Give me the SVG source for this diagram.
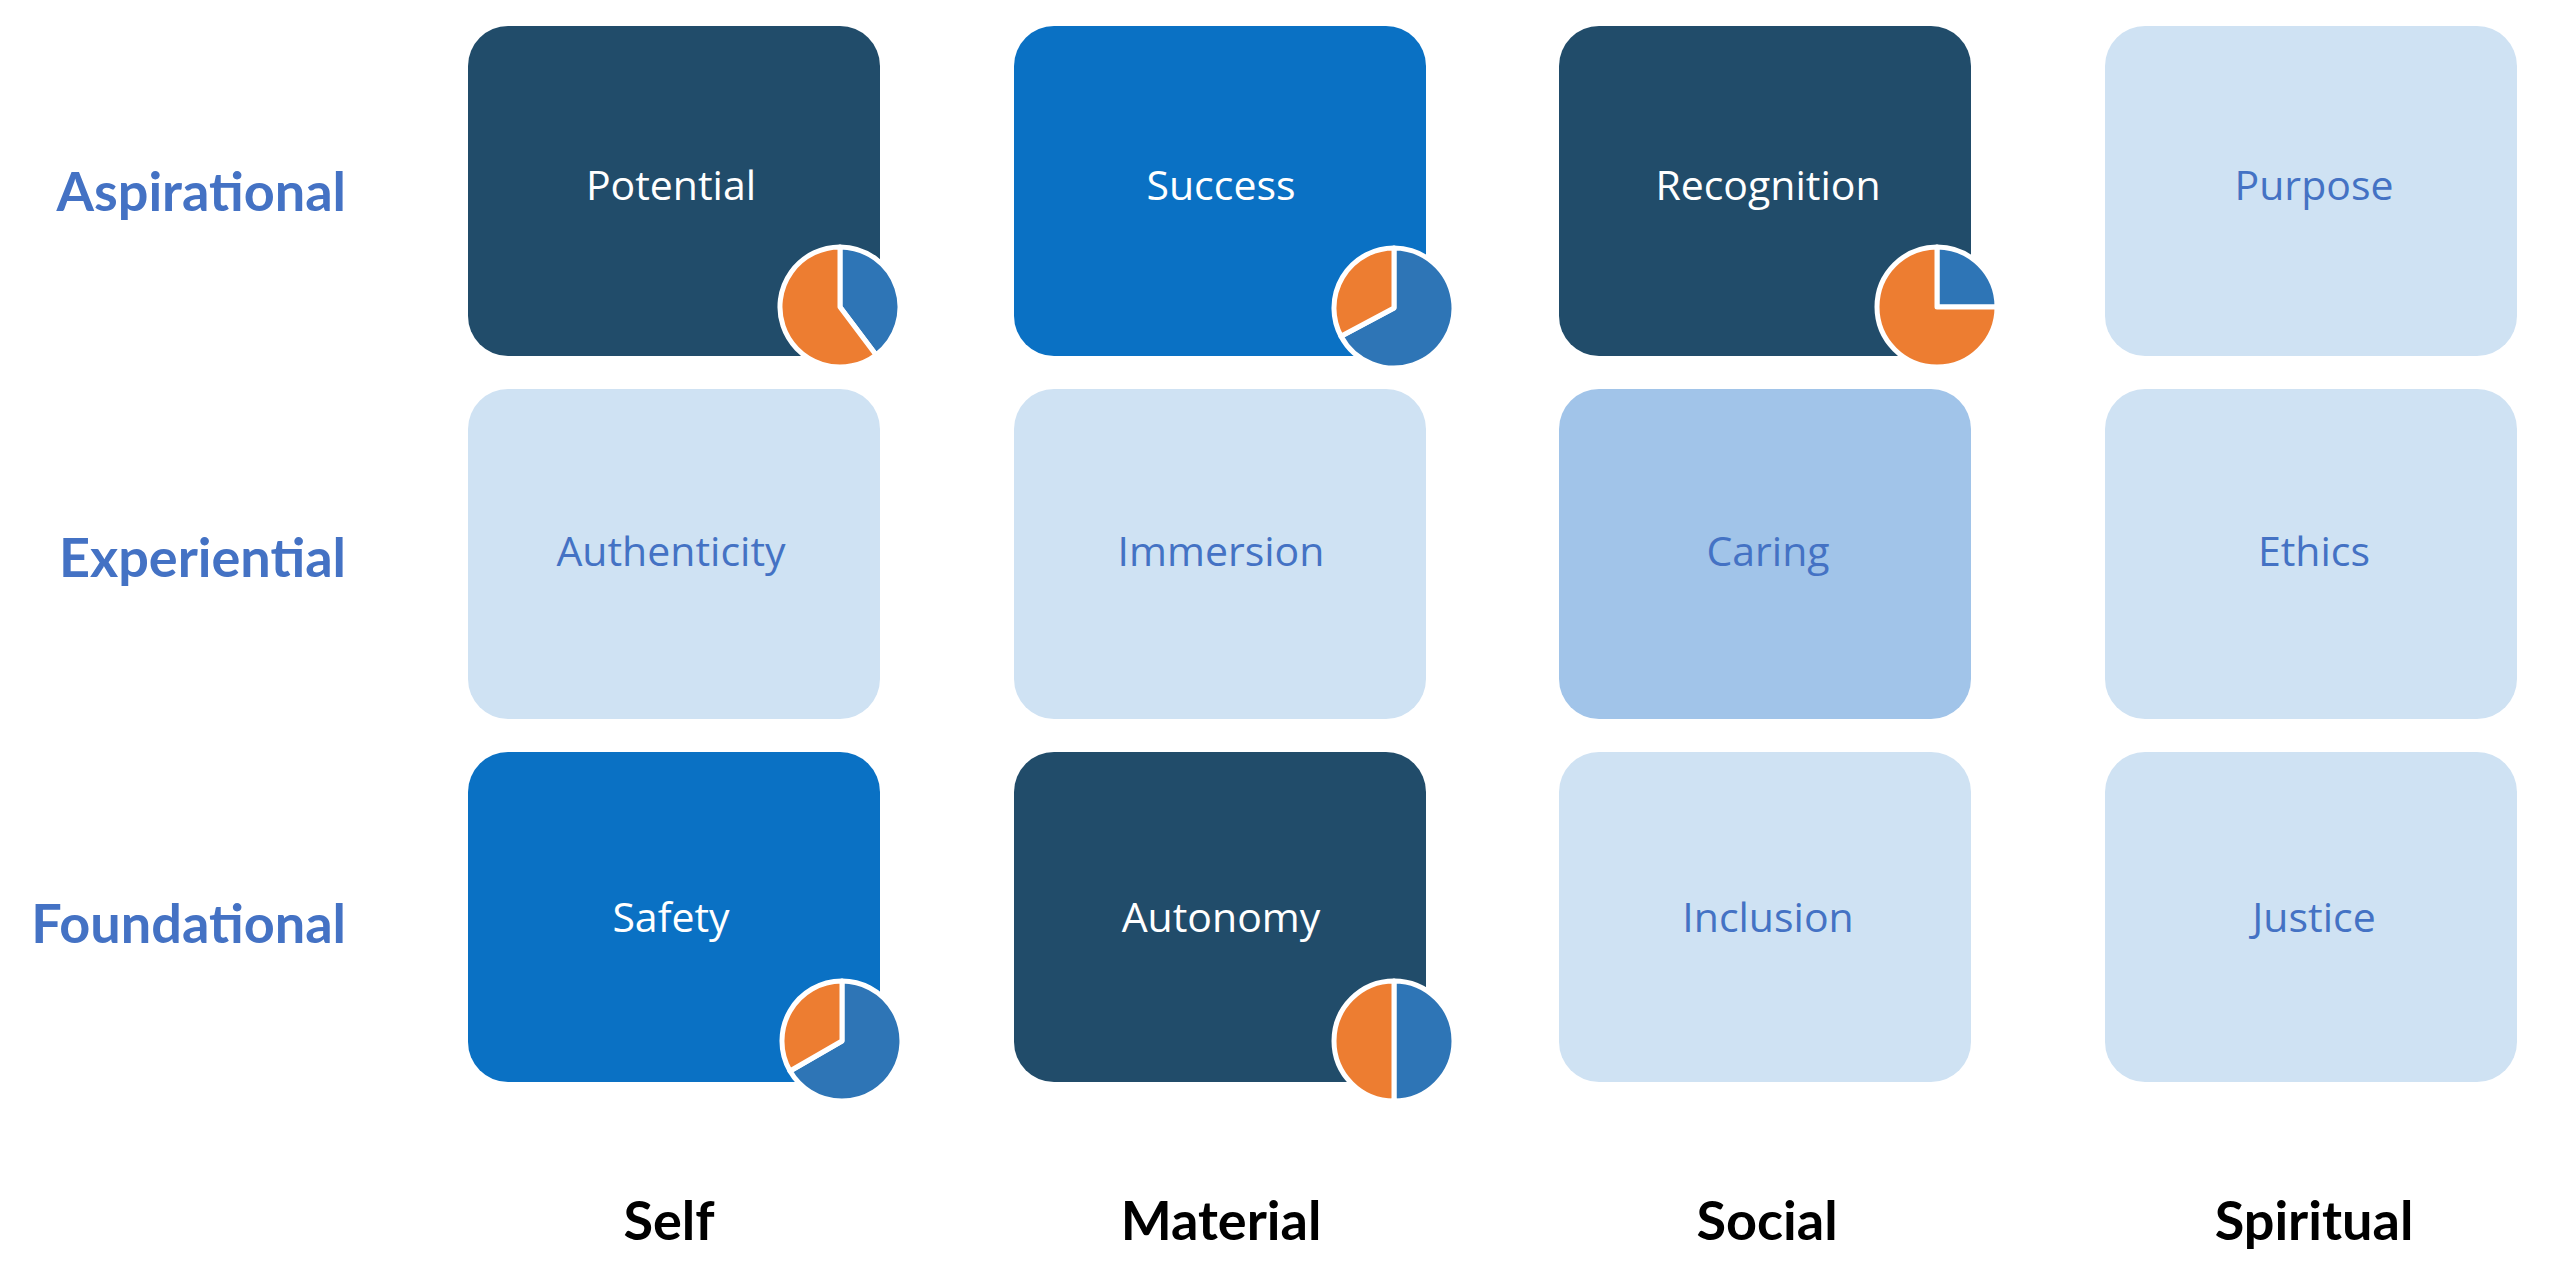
<svg xmlns="http://www.w3.org/2000/svg" width="2560" height="1277" viewBox="0 0 2560 1277">
  <style>
    .box { stroke: none; }
    .dark { fill: #214C6A; }
    .bright { fill: #0A71C4; }
    .light { fill: #CFE2F3; }
    .mid { fill: #A1C4E9; }
    .nt { font-family: "Open Sans", "Noto Sans", sans-serif; font-size: 41px; text-anchor: middle; }
    .wt { fill: #FFFFFF; }
    .bt { fill: #4472C4; }
    .rowlab { font-family: Lato, "Open Sans", sans-serif; font-weight: bold; font-size: 54px; fill: #4472C4; text-anchor: end; }
    .collab { font-family: Lato, "Open Sans", sans-serif; font-weight: bold; font-size: 54px; fill: #000000; text-anchor: middle; }
    .pb { fill: #2E75B6; stroke: #FFFFFF; stroke-width: 5; stroke-linejoin: round; }
    .po { fill: #ED7D31; stroke: #FFFFFF; stroke-width: 5; stroke-linejoin: round; }
  </style>
  <rect width="2560" height="1277" fill="#FFFFFF"/>

  <g id="row-labels">
    <text class="rowlab" x="346" y="211">Aspirational</text>
    <text class="rowlab" x="346" y="577">Experiential</text>
    <text class="rowlab" x="346" y="943">Foundational</text>
  </g>

  <g id="col-labels">
    <text class="collab" x="669" y="1240">Self</text>
    <text class="collab" x="1221" y="1240">Material</text>
    <text class="collab" x="1767" y="1240">Social</text>
    <text class="collab" x="2314" y="1240">Spiritual</text>
  </g>

  <g id="potential">
    <rect class="box dark" x="468" y="26" width="412" height="330" rx="40"/>
    <text class="nt wt" x="671" y="200">Potential</text>
    <g transform="translate(840,307)">
      <path class="pb" d="M0 0 L0 -60 A60 60 0 0 1 36.1 47.9 Z"/>
      <path class="po" d="M0 0 L36.1 47.9 A60 60 0 1 1 0 -60 Z"/>
    </g>
  </g>
  <g id="success">
    <rect class="box bright" x="1014" y="26" width="412" height="330" rx="40"/>
    <text class="nt wt" x="1221" y="200">Success</text>
    <g transform="translate(1394,308)">
      <path class="pb" d="M0 0 L0 -60 A60 60 0 1 1 -53 28.2 Z"/>
      <path class="po" d="M0 0 L-53 28.2 A60 60 0 0 1 0 -60 Z"/>
    </g>
  </g>
  <g id="recognition">
    <rect class="box dark" x="1559" y="26" width="412" height="330" rx="40"/>
    <text class="nt wt" x="1768" y="200">Recognition</text>
    <g transform="translate(1937,307)">
      <path class="pb" d="M0 0 L0 -60 A60 60 0 0 1 60 0 Z"/>
      <path class="po" d="M0 0 L60 0 A60 60 0 1 1 0 -60 Z"/>
    </g>
  </g>
  <g id="purpose">
    <rect class="box light" x="2105" y="26" width="412" height="330" rx="40"/>
    <text class="nt bt" x="2314" y="200">Purpose</text>
  </g>

  <g id="authenticity">
    <rect class="box light" x="468" y="389" width="412" height="330" rx="40"/>
    <text class="nt bt" x="671" y="566">Authenticity</text>
  </g>
  <g id="immersion">
    <rect class="box light" x="1014" y="389" width="412" height="330" rx="40"/>
    <text class="nt bt" x="1221" y="566">Immersion</text>
  </g>
  <g id="caring">
    <rect class="box mid" x="1559" y="389" width="412" height="330" rx="40"/>
    <text class="nt bt" x="1768" y="566">Caring</text>
  </g>
  <g id="ethics">
    <rect class="box light" x="2105" y="389" width="412" height="330" rx="40"/>
    <text class="nt bt" x="2314" y="566">Ethics</text>
  </g>

  <g id="safety">
    <rect class="box bright" x="468" y="752" width="412" height="330" rx="40"/>
    <text class="nt wt" x="671" y="932">Safety</text>
    <g transform="translate(842,1041)">
      <path class="pb" d="M0 0 L0 -60 A60 60 0 1 1 -52 30 Z"/>
      <path class="po" d="M0 0 L-52 30 A60 60 0 0 1 0 -60 Z"/>
    </g>
  </g>
  <g id="autonomy">
    <rect class="box dark" x="1014" y="752" width="412" height="330" rx="40"/>
    <text class="nt wt" x="1221" y="932">Autonomy</text>
    <g transform="translate(1394,1041)">
      <path class="pb" d="M0 0 L0 -60 A60 60 0 0 1 0 60 Z"/>
      <path class="po" d="M0 0 L0 60 A60 60 0 0 1 0 -60 Z"/>
    </g>
  </g>
  <g id="inclusion">
    <rect class="box light" x="1559" y="752" width="412" height="330" rx="40"/>
    <text class="nt bt" x="1768" y="932">Inclusion</text>
  </g>
  <g id="justice">
    <rect class="box light" x="2105" y="752" width="412" height="330" rx="40"/>
    <text class="nt bt" x="2314" y="932">Justice</text>
  </g>

  <g id="connectors"></g>
</svg>
